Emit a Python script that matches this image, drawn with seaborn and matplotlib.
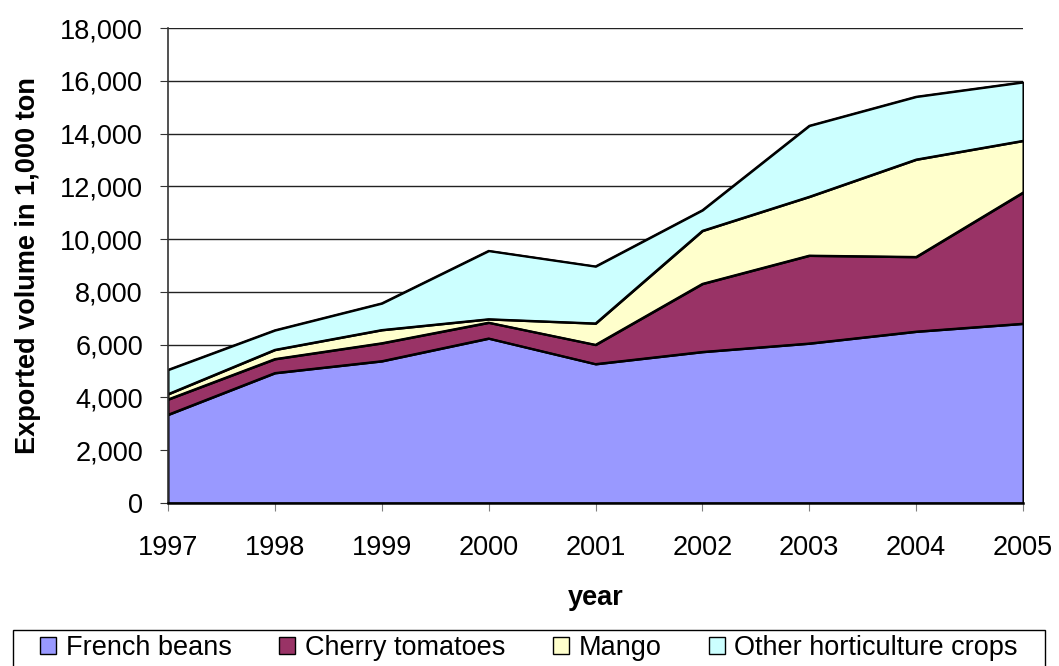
import matplotlib
matplotlib.use("Agg")

import matplotlib.pyplot as plt
import seaborn as sns
import numpy as np
from matplotlib.ticker import FuncFormatter
from matplotlib.patches import Patch, Rectangle

# -----------------------------
# DATA (1,000 ton)
# -----------------------------
years = [1997, 1998, 1999, 2000, 2001, 2002, 2003, 2004, 2005]
french_beans = [3350, 4930, 5380, 6240, 5270, 5730, 6050, 6500, 6800]
cherry_tomatoes = [580, 530, 680, 600, 730, 2580, 3330, 2830, 4970]
mango = [200, 350, 500, 130, 810, 2010, 2230, 3690, 1960]
other_crops = [920, 740, 1010, 2590, 2160, 780, 2690, 2380, 2220]

series_names = ["French beans", "Cherry tomatoes", "Mango", "Other horticulture crops"]
colors = ["#9999FF", "#993366", "#FFFFCC", "#CCFFFF"]

sns.set_style("white", {"text.color": "black", "axes.labelcolor": "black",
                        "xtick.color": "black", "ytick.color": "black"})
plt.rcParams["font.family"] = ["Liberation Sans", "DejaVu Sans"]
FS = 19.5

fig = plt.figure(figsize=(10.59, 6.66), dpi=100)
ax = fig.add_axes([168 / 1059, 1 - 503 / 666, 855 / 1059, 475 / 666])

ax.stackplot(years, french_beans, cherry_tomatoes, mango, other_crops,
             colors=colors, edgecolor="black", linewidth=1.5, zorder=2)

# outline on top of each layer
cum = np.cumsum([french_beans, cherry_tomatoes, mango, other_crops], axis=0)
for row in cum:
    sns.lineplot(x=years, y=row, color="black", linewidth=1.3, ax=ax, zorder=3)

ax.set_xlim(1997, 2005)
ax.set_ylim(0, 18000)
ax.set_yticks(range(0, 18001, 2000))
ax.set_xticks(years)
ax.yaxis.set_major_formatter(FuncFormatter(lambda v, p: f"{int(v):,}"))
ax.grid(axis="y", color="#222222", linewidth=1.0, zorder=0)
ax.set_axisbelow(True)

for s in ["top", "right"]:
    ax.spines[s].set_visible(False)
ax.spines["left"].set_color("#333333")
ax.spines["left"].set_linewidth(1.2)
ax.spines["bottom"].set_color("black")
ax.spines["bottom"].set_linewidth(1.8)
for s in ["left", "bottom"]:
    ax.spines[s].set_zorder(4)

ax.tick_params(axis="y", labelsize=FS, length=6, direction="out", color="#333333",
               labelcolor="black", left=True, pad=12)
ax.tick_params(axis="x", labelsize=FS, length=6, direction="out", color="#808080",
               labelcolor="black", bottom=True, pad=17)

ax.set_xlabel("year", fontsize=FS, fontweight="bold", labelpad=17)
ax.set_ylabel("Exported volume in 1,000 ton", fontsize=FS, fontweight="bold", labelpad=14)

# legend (frame drawn separately, it runs off the bottom edge)
handles = [Patch(facecolor=c, edgecolor="black", linewidth=1.0) for c in colors]
leg = fig.legend(handles, series_names, loc="center", ncol=4,
                 bbox_to_anchor=(529 / 1059, 1 - 648 / 666), fontsize=FS, frameon=False,
                 handlelength=0.6, handleheight=0.6, handletextpad=0.35,
                 columnspacing=1.75, borderpad=0.1, borderaxespad=0.0)
fig.patches.append(Rectangle((13 / 1059, -0.05), 1032 / 1059, (666 - 630) / 666 + 0.05,
                             transform=fig.transFigure, fill=False,
                             edgecolor="black", linewidth=1.0))

fig.savefig("out.png", dpi=100)
plt.close(fig)
